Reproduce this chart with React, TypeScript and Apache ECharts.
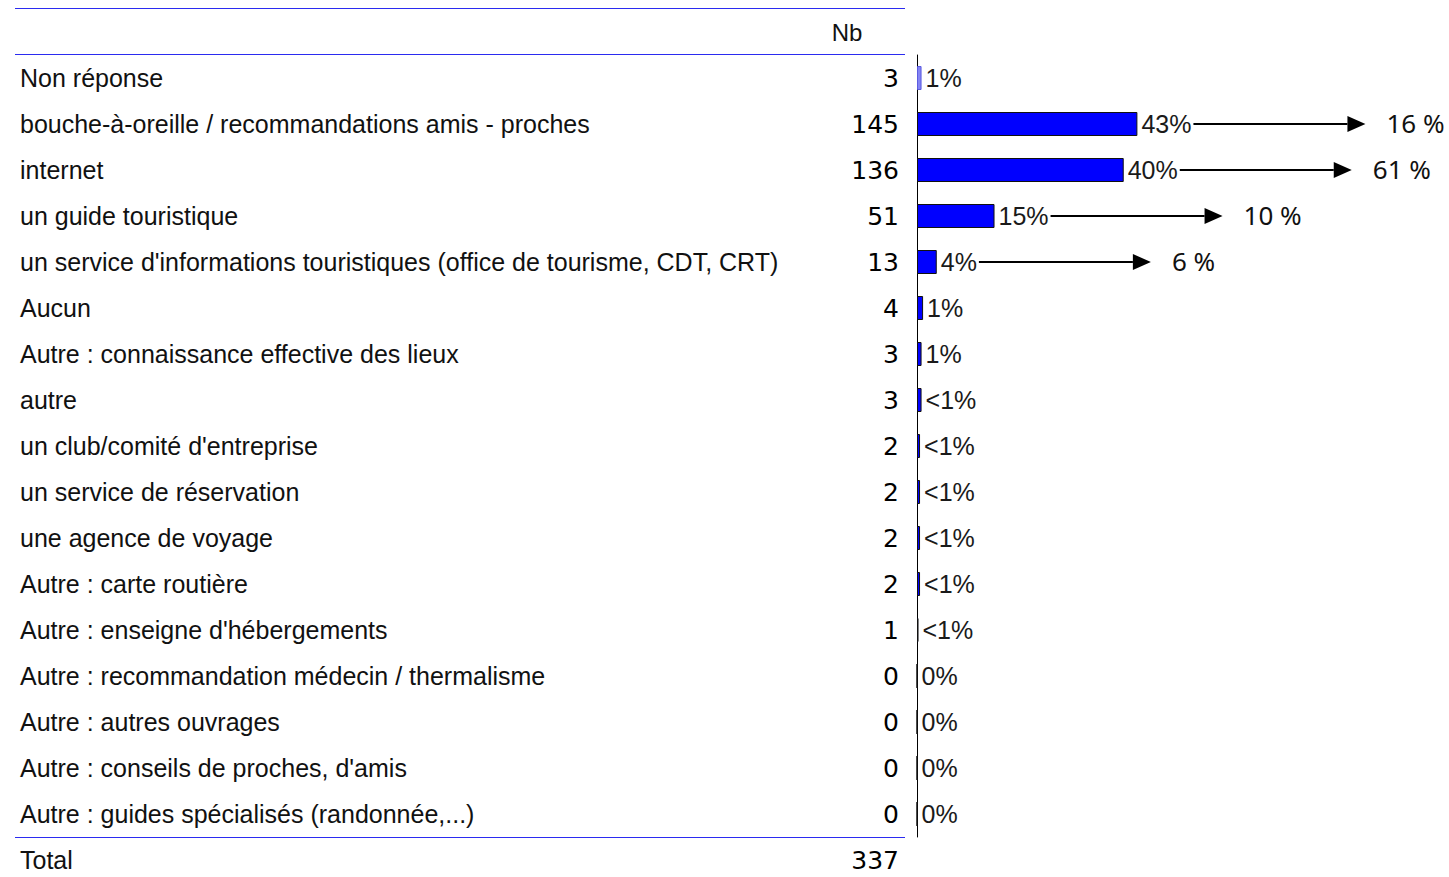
import React, { useEffect, useRef } from "react";
import * as echarts from "echarts";

const categories = [
  "Non réponse",
  "bouche-à-oreille / recommandations amis - proches",
  "internet",
  "un guide touristique",
  "un service d'informations touristiques (office de tourisme, CDT, CRT)",
  "Aucun",
  "Autre : connaissance effective des lieux",
  "autre",
  "un club/comité d'entreprise",
  "un service de réservation",
  "une agence de voyage",
  "Autre : carte routière",
  "Autre : enseigne d'hébergements",
  "Autre : recommandation médecin / thermalisme",
  "Autre : autres ouvrages",
  "Autre : conseils de proches, d'amis",
  "Autre : guides spécialisés (randonnée,...)",
];
const counts = [3, 145, 136, 51, 13, 4, 3, 3, 2, 2, 2, 2, 1, 0, 0, 0, 0];
const pctLabels = ["1%", "43%", "40%", "15%", "4%", "1%", "1%", "<1%", "<1%", "<1%", "<1%", "<1%", "<1%", "0%", "0%", "0%", "0%"];
const arrowRows = [1, 2, 3, 4];
const arrowTargets = ["16 %", "61 %", "10 %", "6 %"];
const totalLabel = "Total";
const totalValue = 337;
const headerLabel = "Nb";

const LABEL_FONT = "Liberation Sans";
const NUM_FONT = "DejaVu Sans";
const PCT_SIZE = 25;

export default function App() {
  const ref = useRef<HTMLDivElement>(null);
  useEffect(() => {
    document.body.style.margin = "0";
    const chart = echarts.init(ref.current!, undefined, { renderer: "svg" });
    const canvas = document.createElement("canvas");
    const ctx = canvas.getContext("2d")!;
    ctx.font = `${PCT_SIZE}px "${LABEL_FONT}"`;
    const measure = (s: string) => ctx.measureText(s).width;

    const lineStyle = { stroke: "#2b2bf0", lineWidth: 1 };
    const option: any = {
      animation: false,
      grid: { left: 917, top: 55, width: 532, height: 782, containLabel: false },
      xAxis: { type: "value", min: 0, max: 350, show: false },
      yAxis: [
        {
          type: "category",
          data: categories,
          inverse: true,
          axisLine: { show: true, lineStyle: { color: "#000", width: 1 } },
          axisTick: { show: false },
          splitLine: { show: false },
          axisLabel: { align: "left", margin: 897, fontSize: 25, fontFamily: LABEL_FONT, color: "#111" },
        },
        {
          type: "category",
          data: counts.map(String),
          inverse: true,
          position: "left",
          axisLine: { show: false },
          axisTick: { show: false },
          splitLine: { show: false },
          axisLabel: { align: "right", margin: 18, fontSize: 25, fontFamily: NUM_FONT, color: "#000" },
        },
      ],
      series: [
        {
          type: "bar",
          yAxisIndex: 0,
          barWidth: 24,
          data: counts.map((v, i) => ({
            value: v,
            itemStyle:
              i === 0
                ? { color: "#8484f4", borderColor: "#5c5ce0", borderWidth: 1 }
                : { color: "#0000ff", borderColor: "#111", borderWidth: 1 },
          })),
          label: {
            show: true,
            position: "right",
            distance: 4,
            fontSize: PCT_SIZE,
            fontFamily: LABEL_FONT,
            color: "#1a1a1a",
            formatter: (p: any) => pctLabels[p.dataIndex],
          },
        },
        {
          type: "custom",
          yAxisIndex: 0,
          data: arrowRows.map((r) => [counts[r], r]),
          encode: { x: 0, y: 1 },
          renderItem: (params: any, api: any) => {
            const v = api.value(0);
            const c = api.value(1);
            const pt = api.coord([v, c]);
            const x0 = pt[0] + 4 + measure(pctLabels[c]) + 2;
            const x1 = x0 + 154;
            const y = pt[1];
            return {
              type: "group",
              children: [
                { type: "line", shape: { x1: x0, y1: y, x2: x1, y2: y }, style: { stroke: "#000", lineWidth: 2 } },
                { type: "polygon", shape: { points: [[x1, y - 8], [x1 + 18, y], [x1, y + 8]] }, style: { fill: "#000" } },
                {
                  type: "text",
                  x: x1 + 39,
                  y: y - 1,
                  style: {
                    text: arrowTargets[params.dataIndex],
                    fontSize: 26,
                    fontFamily: "Noto Sans",
                    fill: "#111",
                    verticalAlign: "middle",
                    align: "left",
                  },
                },
              ],
            };
          },
        },
      ],
      graphic: [
        { type: "line", shape: { x1: 15, y1: 8.5, x2: 905, y2: 8.5 }, style: lineStyle },
        { type: "line", shape: { x1: 15, y1: 54.5, x2: 905, y2: 54.5 }, style: lineStyle },
        { type: "line", shape: { x1: 15, y1: 837.5, x2: 905, y2: 837.5 }, style: lineStyle },
        {
          type: "text",
          x: 847,
          y: 32,
          style: { text: headerLabel, fontSize: 24, fontFamily: LABEL_FONT, fill: "#111", align: "center", verticalAlign: "middle" },
        },
        {
          type: "text",
          x: 20,
          y: 860,
          style: { text: totalLabel, fontSize: 25, fontFamily: LABEL_FONT, fill: "#111", align: "left", verticalAlign: "middle" },
        },
        {
          type: "text",
          x: 899,
          y: 860,
          style: { text: String(totalValue), fontSize: 25, fontFamily: NUM_FONT, fill: "#000", align: "right", verticalAlign: "middle" },
        },
      ],
    };
    chart.setOption(option);
    return () => chart.dispose();
  }, []);
  return <div ref={ref} style={{ width: 1449, height: 877 }} />;
}
